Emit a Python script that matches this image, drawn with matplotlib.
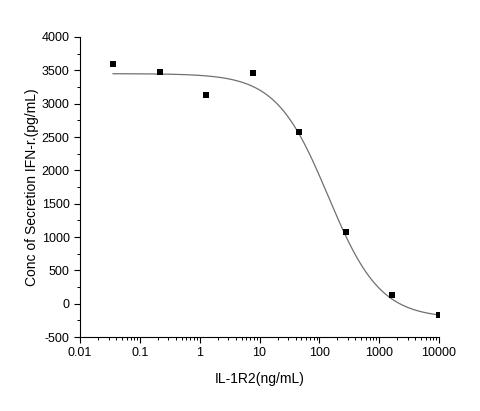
import matplotlib
matplotlib.use('Agg')
import matplotlib.pyplot as plt
from matplotlib.ticker import LogLocator, MultipleLocator, NullFormatter
import numpy as np

plt.rcParams['font.family'] = ['Liberation Sans', 'DejaVu Sans']
plt.rcParams['axes.unicode_minus'] = False

# IL-1R2 concentration (ng/mL) and measured IFN-r secretion (pg/mL)
conc = [0.0357, 0.214, 1.29, 7.7, 46.3, 278, 1667, 10000]
ifn = [3595, 3475, 3130, 3460, 2575, 1075, 130, -170]

# fitted logistic curve parameters
fit_top = 3450
fit_bottom = -220
fit_ec50 = 140
fit_hill = 1.0

fig = plt.figure(figsize=(4.8, 4.11), dpi=100)
ax = fig.add_axes([0.1667, 0.180, 0.748, 0.730])

xs = np.logspace(np.log10(conc[0]), np.log10(conc[-1]), 300)
ys = fit_bottom + (fit_top - fit_bottom) / (1 + (xs / fit_ec50) ** fit_hill)
ax.plot(xs, ys, color='#707070', lw=0.9)
ax.plot(conc, ifn, 's', color='black', ms=4.2, mew=0)

ax.set_xscale('log')
ax.set_xlim(0.01, 10000)
ax.set_ylim(-500, 4000)
ax.set_xticks([0.01, 0.1, 1, 10, 100, 1000, 10000])
ax.set_xticklabels(['0.01', '0.1', '1', '10', '100', '1000', '10000'])
ax.xaxis.set_minor_locator(LogLocator(base=10, subs=np.arange(2, 10)))
ax.xaxis.set_minor_formatter(NullFormatter())
ax.yaxis.set_major_locator(MultipleLocator(500))
ax.yaxis.set_minor_locator(MultipleLocator(250))

for s in ['top', 'right']:
    ax.spines[s].set_visible(False)
ax.tick_params(which='major', direction='out', length=4, width=0.8, labelsize=9)
ax.tick_params(which='minor', direction='out', length=2, width=0.7)

ax.set_xlabel('IL-1R2(ng/mL)', fontsize=10, labelpad=9)
ax.set_ylabel('Conc of Secretion IFN-r.(pg/mL)', fontsize=10, labelpad=2)

fig.savefig('out.png', dpi=100)
